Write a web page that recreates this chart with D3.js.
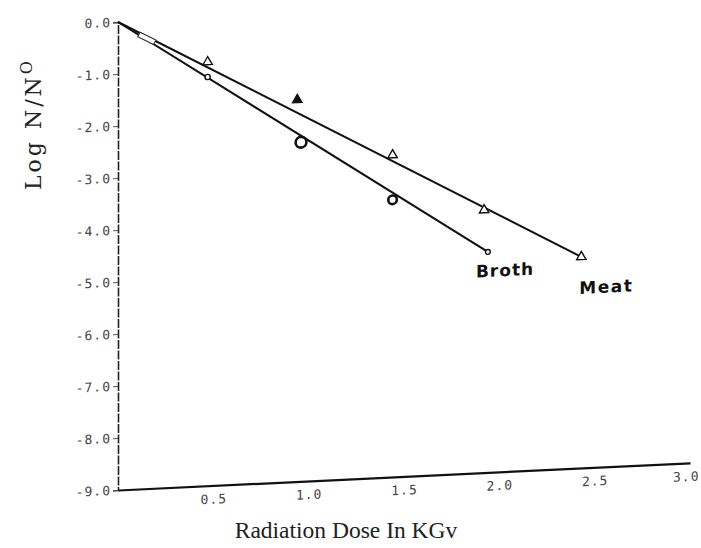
<!DOCTYPE html>
<html>
<head>
<meta charset="utf-8">
<script src="https://cdn.jsdelivr.net/npm/d3@7"></script>
<style>
  html, body { margin: 0; padding: 0; background: #fff; }
  svg { display: block; }
</style>
</head>
<body>
<div id="chart"></div>
<script>
/* Curvas de supervivencia (log N/N0) frente a la dosis: caldo vs carne.
   La figura original es un escaneo algo inclinado: el eje X sube hacia la derecha. */

const W = 701, H = 548;

// datos
const meatDose  = [0, 0.47, 0.94, 1.44, 1.92, 2.43];
const meatLog   = [0, -0.85, -1.66, -2.81, -3.95, -4.94];
const meatFill  = [false, false, true, false, false, false];
const brothDose = [0, 0.15, 0.47, 0.96, 1.44, 1.94];
const brothLog  = [0, -0.35, -1.14, -2.48, -3.67, -4.76];
const brothR    = [0, 0, 2.6, 5.4, 4.3, 2.4];      // tamaño del círculo dibujado a mano
// rectas ajustadas (origen → último punto)
const meatFitDose  = [0, 2.43],  meatFitLog  = [0, -4.94];
const brothFitDose = [0, 1.94],  brothFitLog = [0, -4.76];

const xTicks = [0.5, 1.0, 1.5, 2.0, 2.5, 3.0];
const yTicks = [0, -1, -2, -3, -4, -5, -6, -7, -8, -9];

const X0 = 118, X1 = 690, YTOP = 22, YBOT = 490;
const x = d3.scaleLinear().domain([0, 3]).range([0, X1 - X0]);
const y = d3.scaleLinear().domain([-9, 0]).range([YBOT, YTOP]);
const SKEW = -2.72;   // grados, inclinación del escaneo

const svg = d3.select("#chart").append("svg")
  .attr("width", W).attr("height", H)
  .attr("viewBox", `0 0 ${W} ${H}`);

const plot = svg.append("g")
  .attr("transform", `translate(${X0},0) skewY(${SKEW})`);

// --- eje Y ---------------------------------------------------------------
const yAxis = plot.append("g")
  .call(d3.axisLeft(y).tickValues(yTicks).tickSize(5).tickPadding(2)
    .tickFormat(d => d.toFixed(1)));
yAxis.select(".domain").attr("stroke", "#222").attr("stroke-width", 1.6)
  .attr("stroke-dasharray", "9 1.5");
yAxis.selectAll(".tick line").attr("stroke", "#555").attr("stroke-width", 1.1);
yAxis.selectAll(".tick text")
  .attr("font-family", "DejaVu Sans Mono").attr("font-size", 13)
  .attr("letter-spacing", 1).attr("fill", "#444");

// --- eje X ---------------------------------------------------------------
const xAxis = plot.append("g").attr("transform", `translate(0,${YBOT})`)
  .call(d3.axisBottom(x).tickValues(xTicks).tickSize(0).tickPadding(9)
    .tickFormat(d => d.toFixed(1)));
xAxis.select(".domain").attr("stroke", "#111").attr("stroke-width", 2.2);
xAxis.selectAll(".tick text")
  .attr("font-family", "DejaVu Sans Mono").attr("font-size", 13)
  .attr("letter-spacing", 1).attr("fill", "#444");
// la última etiqueta queda pegada al borde derecho: se alinea a la derecha
xAxis.selectAll(".tick text").filter(d => d === 3).attr("text-anchor", "end").attr("dx", 9);

// --- rectas --------------------------------------------------------------
const line = d3.line().x(d => x(d[0])).y(d => y(d[1]));
const fits = [
  d3.zip(meatFitDose, meatFitLog),
  d3.zip(brothFitDose, brothFitLog),
];
plot.selectAll("path.fit").data(fits).join("path")
  .attr("class", "fit")
  .attr("d", line)
  .attr("fill", "none").attr("stroke", "#111").attr("stroke-width", 2);

// --- marcadores: carne (triángulos) -------------------------------------
const tri = d3.symbol().type(d3.symbolTriangle).size(38);
plot.selectAll("path.meat").data(d3.zip(meatDose, meatLog, meatFill).slice(1)).join("path")
  .attr("class", "meat")
  .attr("transform", d => `translate(${x(d[0])},${y(d[1])})`)
  .attr("d", tri)
  .attr("fill", d => d[2] ? "#111" : "#fff")
  .attr("stroke", "#111").attr("stroke-width", 1.4);

// --- marcadores: caldo (círculos; el primero es un cuadradito) -----------
const broth = d3.zip(brothDose, brothLog, brothR).slice(1);
plot.selectAll("rect.broth").data(broth.filter(d => d[2] === 0)).join("rect")
  .attr("class", "broth")
  .attr("x", d => x(d[0]) - 9).attr("y", d => y(d[1]) - 3)
  .attr("width", 18).attr("height", 5)
  .attr("transform", d => `rotate(28,${x(d[0])},${y(d[1])})`)
  .attr("fill", "#fff").attr("stroke", "#333").attr("stroke-width", 1.1);
plot.selectAll("circle.broth").data(broth.filter(d => d[2] > 0)).join("circle")
  .attr("class", "broth")
  .attr("cx", d => x(d[0])).attr("cy", d => y(d[1]))
  .attr("r", d => d[2])
  .attr("fill", "#fff").attr("stroke", "#111")
  .attr("stroke-width", d => d[2] > 4 ? 2.6 : 1.4);

// --- rótulos escritos a mano ---------------------------------------------
const hand = { family: "DejaVu Sans", size: 17 };
plot.append("text")
  .attr("x", x(brothDose[brothDose.length - 1]) - 12)
  .attr("y", y(brothLog[brothLog.length - 1]) + 25)
  .attr("font-family", hand.family).attr("font-size", hand.size)
  .attr("font-weight", "bold").attr("letter-spacing", 1).attr("fill", "#111")
  .text("Broth");
plot.append("text")
  .attr("x", x(meatDose[meatDose.length - 1]) - 2)
  .attr("y", y(meatLog[meatLog.length - 1]) + 37)
  .attr("font-family", hand.family).attr("font-size", hand.size)
  .attr("font-weight", "bold").attr("letter-spacing", 1.5).attr("fill", "#111")
  .text("Meat");

// --- títulos de ejes -------------------------------------------------------
svg.append("text")
  .attr("x", 346).attr("y", 538)
  .attr("text-anchor", "middle")
  .attr("font-family", "Liberation Serif").attr("font-size", 23.5).attr("fill", "#222")
  .text("Radiation Dose In KGv");

const yl = svg.append("text")
  .attr("transform", "translate(41,124) rotate(-90)")
  .attr("text-anchor", "middle")
  .attr("font-family", "DejaVu Serif").attr("font-size", 22)
  .attr("letter-spacing", 3).attr("fill", "#222");
yl.append("tspan").text("Log N/N");
yl.append("tspan").attr("font-size", 16).attr("dy", -9).text("O");
</script>
</body>
</html>
